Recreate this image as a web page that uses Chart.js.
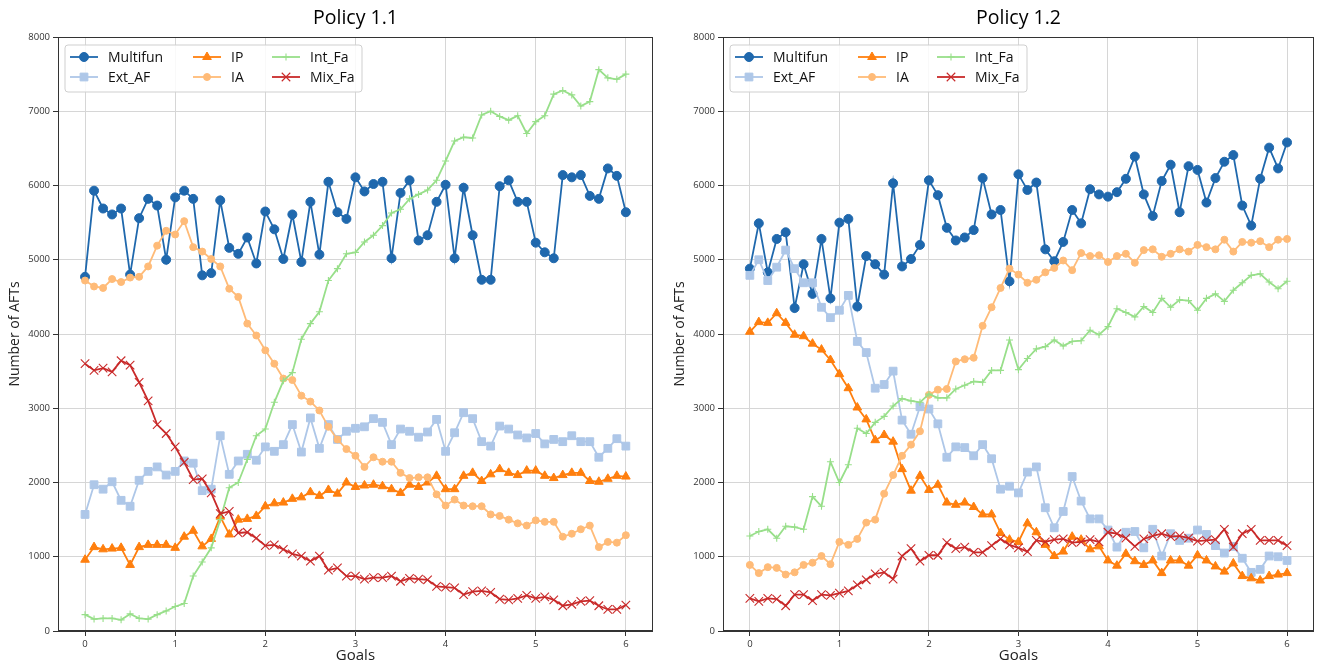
<!DOCTYPE html>
<html lang="en">
<head>
  <meta charset="UTF-8">
  <title>Policy 1.1 / Policy 1.2</title>
  <script src="https://cdn.jsdelivr.net/npm/chart.js"></script>
  <style>
    body { margin: 0; background: #fff; }
    .painel { position: absolute; top: 0; }
  </style>
</head>
<body>
  <div class="painel" style="left:0px"><canvas id="grafico1" width="660" height="665" style="width:660px;height:665px"></canvas></div>
  <div class="painel" style="left:660px"><canvas id="grafico2" width="661" height="665" style="width:661px;height:665px"></canvas></div>

<script>
  // eixo x (Goals) e marcas
  var goals = [0, 0.1, 0.2, 0.3, 0.4, 0.5, 0.6, 0.7, 0.8, 0.9,
    1, 1.1, 1.2, 1.3, 1.4, 1.5, 1.6, 1.7, 1.8, 1.9,
    2, 2.1, 2.2, 2.3, 2.4, 2.5, 2.6, 2.7, 2.8, 2.9,
    3, 3.1, 3.2, 3.3, 3.4, 3.5, 3.6, 3.7, 3.8, 3.9,
    4, 4.1, 4.2, 4.3, 4.4, 4.5, 4.6, 4.7, 4.8, 4.9,
    5, 5.1, 5.2, 5.3, 5.4, 5.5, 5.6, 5.7, 5.8, 5.9, 6];
  var xTicks = [0, 1, 2, 3, 4, 5, 6];
  var yTicks = [0, 1000, 2000, 3000, 4000, 5000, 6000, 7000, 8000];

  // Policy 1.1
  var multifun1 = [4770, 5930, 5690, 5610, 5690, 4800, 5560, 5820, 5730, 5000,
    5840, 5930, 5820, 4790, 4820, 5800, 5160, 5080, 5300, 4950,
    5650, 5410, 5010, 5610, 4970, 5780, 5070, 6050, 5640, 5550,
    6110, 5920, 6020, 6050, 5020, 5900, 6070, 5260, 5330, 5780,
    6010, 5020, 5970, 5330, 4730, 4730, 5990, 6070, 5780, 5780,
    5230, 5100, 5020, 6140, 6110, 6140, 5860, 5820, 6230, 6130, 5640];
  var extaf1 = [1570, 1970, 1910, 2010, 1760, 1680, 2030, 2150, 2210, 2100,
    2150, 2290, 2260, 1890, 1910, 2630, 2110, 2290, 2380, 2300,
    2480, 2420, 2510, 2780, 2410, 2870, 2460, 2780, 2580, 2690,
    2730, 2750, 2860, 2810, 2510, 2720, 2690, 2610, 2680, 2850,
    2420, 2670, 2940, 2860, 2550, 2490, 2760, 2720, 2640, 2600,
    2660, 2520, 2580, 2550, 2630, 2550, 2550, 2340, 2460, 2590, 2490];
  var ip1 = [960, 1130, 1100, 1110, 1120, 890, 1130, 1160, 1160, 1160,
    1120, 1270, 1350, 1140, 1240, 1540, 1300, 1500, 1510, 1550,
    1680, 1720, 1730, 1780, 1800, 1870, 1820, 1900, 1850, 2000,
    1940, 1960, 1970, 1950, 1910, 1860, 1970, 1940, 2000, 2090,
    1910, 1910, 2090, 2130, 2020, 2110, 2180, 2130, 2100, 2160,
    2160, 2090, 2060, 2100, 2130, 2130, 2020, 2010, 2050, 2090, 2080];
  var ia1 = [4720, 4640, 4620, 4740, 4700, 4760, 4770, 4910, 5190, 5390,
    5340, 5520, 5170, 5110, 5010, 4910, 4610, 4500, 4140, 3980,
    3780, 3600, 3400, 3380, 3170, 3090, 2970, 2750, 2580, 2450,
    2360, 2210, 2340, 2280, 2280, 2130, 2060, 2070, 2070, 1840,
    1690, 1770, 1690, 1680, 1680, 1570, 1550, 1500, 1450, 1420,
    1490, 1470, 1470, 1270, 1310, 1370, 1420, 1130, 1200, 1190, 1290];
  var intfa1 = [220, 160, 170, 170, 150, 230, 170, 160, 220, 270,
    330, 370, 740, 930, 1120, 1500, 1930, 2000, 2310, 2630,
    2720, 3080, 3370, 3480, 3930, 4140, 4300, 4720, 4880, 5080,
    5100, 5240, 5330, 5460, 5630, 5680, 5820, 5880, 5940, 6070,
    6330, 6600, 6650, 6640, 6950, 7000, 6930, 6880, 6940, 6700,
    6860, 6940, 7230, 7280, 7220, 7070, 7130, 7560, 7450, 7430, 7500];
  var mixfa1 = [3600, 3510, 3540, 3490, 3640, 3580, 3350, 3100, 2780, 2660,
    2480, 2270, 2040, 2050, 1860, 1580, 1610, 1320, 1330, 1250,
    1150, 1160, 1100, 1040, 1010, 940, 1010, 820, 850, 740,
    740, 700, 720, 720, 740, 670, 710, 700, 690, 600,
    590, 580, 490, 530, 540, 520, 430, 420, 440, 480,
    440, 460, 420, 340, 360, 400, 410, 340, 290, 290, 350];

  // Policy 1.2
  var multifun2 = [4880, 5490, 4830, 5280, 5370, 4350, 4940, 4540, 5280, 4480,
    5500, 5550, 4370, 5050, 4940, 4800, 6030, 4910, 5010, 5200,
    6070, 5870, 5430, 5260, 5300, 5400, 6100, 5610, 5670, 4710,
    6150, 5940, 6040, 5140, 4980, 5240, 5670, 5490, 5950, 5880,
    5850, 5910, 6090, 6390, 5880, 5590, 6060, 6280, 5640, 6260,
    6210, 5770, 6100, 6320, 6410, 5730, 5460, 6090, 6510, 6230, 6580];
  var extaf2 = [4790, 5000, 4720, 4900, 5130, 4880, 4690, 4690, 4360, 4220,
    4320, 4520, 3900, 3750, 3270, 3320, 3500, 2840, 2650, 3020,
    2990, 2790, 2340, 2480, 2470, 2360, 2510, 2320, 1910, 1950,
    1860, 2140, 2210, 1660, 1390, 1610, 2080, 1750, 1510, 1510,
    1360, 1130, 1330, 1340, 1120, 1370, 1010, 1310, 1220, 1250,
    1360, 1300, 1150, 1050, 1140, 980, 790, 830, 1010, 1000, 950];
  var ip2 = [4030, 4160, 4150, 4280, 4150, 3990, 3970, 3870, 3790, 3650,
    3460, 3270, 3010, 2850, 2570, 2640, 2550, 2180, 1890, 2090,
    1900, 1970, 1730, 1700, 1730, 1670, 1570, 1570, 1320, 1230,
    1200, 1450, 1330, 1160, 1010, 1070, 1270, 1230, 1100, 1140,
    950, 880, 1040, 940, 890, 950, 780, 950, 950, 880,
    1020, 950, 870, 800, 910, 740, 710, 680, 740, 760, 780];
  var ia2 = [890, 780, 860, 850, 760, 790, 890, 920, 1010, 900,
    1200, 1160, 1240, 1460, 1500, 1850, 2100, 2360, 2510, 2690,
    3180, 3250, 3260, 3630, 3660, 3680, 4110, 4360, 4620, 4880,
    4800, 4690, 4730, 4830, 4890, 4990, 4860, 5090, 5050, 5060,
    4970, 5050, 5080, 4960, 5130, 5140, 5040, 5080, 5140, 5110,
    5200, 5170, 5140, 5270, 5110, 5240, 5230, 5250, 5170, 5270, 5280];
  var intfa2 = [1280, 1340, 1370, 1250, 1410, 1400, 1370, 1810, 1680, 2280,
    2000, 2240, 2730, 2660, 2810, 2890, 3030, 3130, 3100, 3080,
    3190, 3140, 3140, 3260, 3310, 3360, 3350, 3510, 3510, 3920,
    3520, 3670, 3800, 3830, 3920, 3840, 3900, 3910, 4050, 3990,
    4100, 4340, 4290, 4230, 4370, 4290, 4480, 4360, 4460, 4450,
    4320, 4480, 4540, 4440, 4590, 4690, 4790, 4810, 4700, 4610, 4710];
  var mixfa2 = [440, 400, 440, 430, 340, 490, 490, 410, 490, 480,
    510, 540, 620, 690, 770, 790, 700, 1010, 1110, 940,
    1020, 1020, 1190, 1110, 1130, 1060, 1060, 1150, 1240, 1160,
    1120, 1070, 1220, 1200, 1230, 1240, 1190, 1200, 1230, 1200,
    1330, 1310, 1250, 1140, 1240, 1280, 1310, 1270, 1280, 1250,
    1210, 1220, 1230, 1370, 1130, 1310, 1370, 1220, 1220, 1220, 1150];

  var nomes = ['Multifun', 'Ext_AF', 'IP', 'IA', 'Int_Fa', 'Mix_Fa'];
  var cores = ['#1f68ad', '#aec7e8', '#ff7f0e', '#ffbb78', '#98df8a', '#c92a2a'];
  var marcadores = ['circle', 'rect', 'triangle', 'circle', 'cross', 'crossRot'];
  var raios = [4.5, 5.5, 5, 3.5, 3.5, 6];

  Chart.defaults.font.family = '"Open Sans", sans-serif';
  Chart.defaults.color = '#333';

  function montarPontos(valores) {
    return goals.map(function (g, i) { return { x: g, y: valores[i] }; });
  }

  function montarDatasets(series) {
    var lista = [];
    for (var i = 0; i < series.length; i++) {
      var cruz = marcadores[i] == 'cross' || marcadores[i] == 'crossRot';
      lista.push({
        label: nomes[i],
        data: montarPontos(series[i]),
        borderColor: cores[i],
        backgroundColor: cores[i],
        borderWidth: 1.8,
        pointStyle: marcadores[i],
        pointRadius: raios[i],
        pointBorderWidth: cruz ? 1.1 : 1,
        pointBorderColor: cores[i],
        pointBackgroundColor: cores[i],
        tension: 0,
        order: series.length - i   // ultimo desenhado por cima, como no matplotlib
      });
    }
    return lista;
  }

  // moldura completa + legenda dentro da area do grafico
  var legendaInterna = {
    id: 'legendaInterna',
    afterDatasetsDraw: function (chart) {
      var ctx = chart.ctx, a = chart.chartArea;
      ctx.save();
      ctx.strokeStyle = '#333';
      ctx.lineWidth = 1;
      ctx.strokeRect(Math.round(a.left) + 0.5, Math.round(a.top) + 0.5,
        Math.round(a.right - a.left) - 1, Math.round(a.bottom - a.top) - 1);

      var x0 = a.left + 7, y0 = a.top + 8;
      ctx.fillStyle = 'rgba(255,255,255,0.85)';
      ctx.strokeStyle = '#cfcfcf';
      ctx.beginPath();
      ctx.roundRect(x0, y0, 297, 47, 3);
      ctx.fill();
      ctx.stroke();

      var colunas = [5, 128, 207];
      var linhas = [12, 32];
      var dsList = chart.data.datasets;
      ctx.font = '14px "Open Sans", sans-serif';
      ctx.textBaseline = 'middle';
      for (var i = 0; i < dsList.length; i++) {
        var ds = dsList[i];
        var lx = x0 + colunas[Math.floor(i / 2)];
        var ly = y0 + linhas[i % 2];
        ctx.strokeStyle = ds.borderColor;
        ctx.lineWidth = ds.borderWidth;
        ctx.beginPath();
        ctx.moveTo(lx, ly);
        ctx.lineTo(lx + 28, ly);
        ctx.stroke();
        ctx.fillStyle = ds.backgroundColor;
        ctx.lineWidth = ds.pointBorderWidth;
        if (Chart.helpers && Chart.helpers.drawPoint) {
          Chart.helpers.drawPoint(ctx, { pointStyle: ds.pointStyle, radius: ds.pointRadius, borderWidth: ds.pointBorderWidth, rotation: 0 }, lx + 14, ly);
        } else {
          ctx.beginPath(); ctx.arc(lx + 14, ly, ds.pointRadius, 0, Math.PI * 2); ctx.fill();
        }
        ctx.fillStyle = '#111';
        ctx.fillText(ds.label, lx + 38, ly + 1);
      }
      ctx.restore();
    }
  };

  function criarGrafico(id, titulo, series, larguraY, padTituloY, padDireita) {
    var tx = document.getElementById(id);
    return new Chart(tx, {
      type: 'line',
      data: { datasets: montarDatasets(series) },
      plugins: [legendaInterna],
      options: {
        responsive: false,
        animation: false,
        layout: { padding: { left: 0, right: padDireita, top: 0, bottom: 0 } },
        plugins: {
          legend: { display: false },
          tooltip: { enabled: false },
          title: {
            display: true,
            text: titulo,
            fullSize: false,
            color: '#000',
            font: { size: 19.5, weight: 'normal', lineHeight: 1.2 },
            padding: { top: 7, bottom: 6.6 }
          }
        },
        scales: {
          x: {
            type: 'linear',
            min: -0.3,
            max: 6.3,
            afterBuildTicks: function (s) { s.ticks = xTicks.map(function (v) { return { value: v }; }); },
            afterFit: function (s) { s.height = 34; },
            ticks: { font: { size: 9.5 }, padding: 3, maxRotation: 0, callback: function (v) { return String(v); } },
            grid: { color: '#d6d6d6', tickColor: '#333', tickLength: 5 },
            border: { color: '#333' },
            title: { display: true, text: 'Goals', color: '#222', font: { size: 15 }, padding: { top: 0, bottom: 0 } }
          },
          y: {
            min: 0,
            max: 8000,
            afterBuildTicks: function (s) { s.ticks = yTicks.map(function (v) { return { value: v }; }); },
            afterFit: function (s) { s.width = larguraY; },
            ticks: { font: { size: 9.5 }, padding: 3, callback: function (v) { return String(v); } },
            grid: { color: '#d6d6d6', tickColor: '#333', tickLength: 5 },
            border: { color: '#333' },
            title: { display: true, text: 'Number of AFTs', color: '#222', font: { size: 14 }, padding: { top: padTituloY, bottom: 0 } }
          }
        }
      }
    });
  }

  criarGrafico('grafico1', 'Policy 1.1', [multifun1, extaf1, ip1, ia1, intfa1, mixfa1], 58, 6.6, 7);
  criarGrafico('grafico2', 'Policy 1.2', [multifun2, extaf2, ip2, ia2, intfa2, mixfa2], 63, 11.6, 3);
</script>
</body>
</html>
